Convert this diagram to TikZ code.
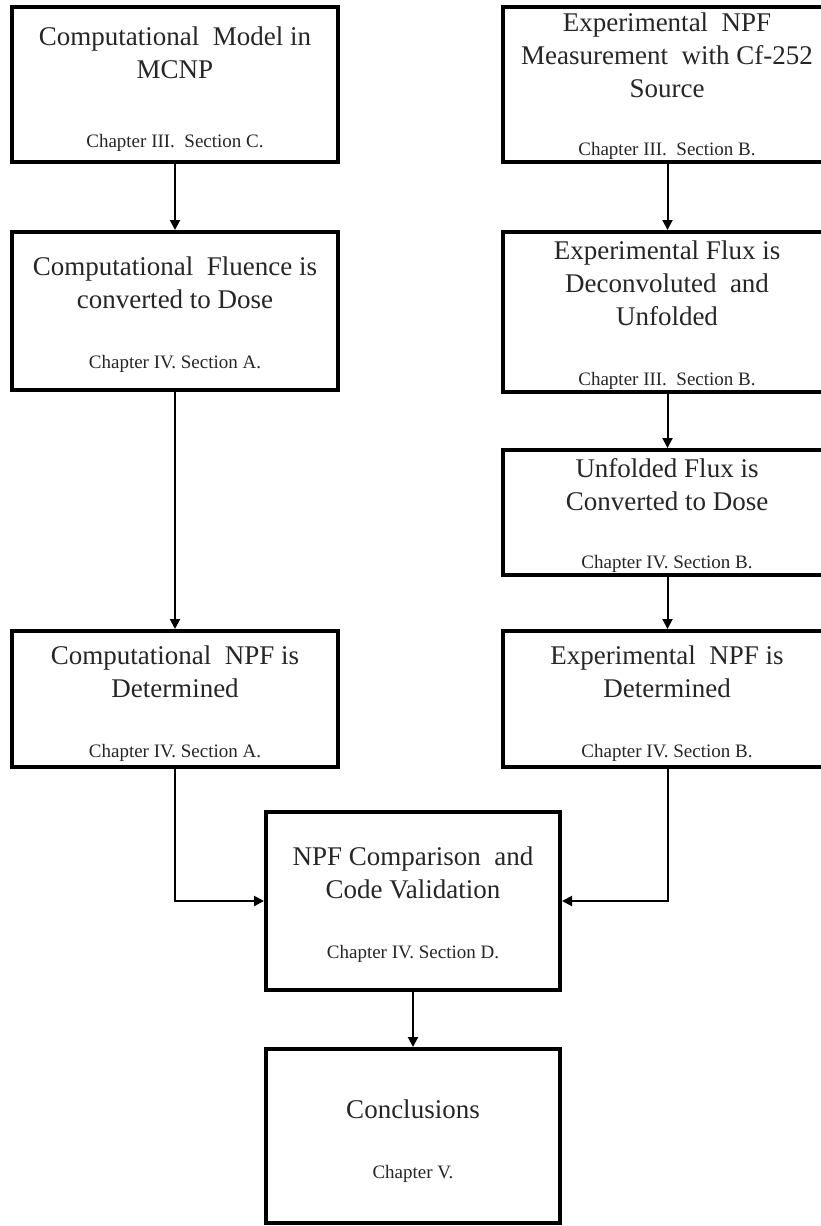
\documentclass[tikz,border=0pt]{standalone}
\usepackage{fontspec}
\setmainfont{Liberation Serif}
\usetikzlibrary{arrows.meta}
\begin{document}
\begin{tikzpicture}[x=1pt,y=-1pt,
  stage/.style={draw=black, line width=4pt, rectangle, inner sep=0pt},
  ttl/.style={anchor=base, align=center, font=\fontsize{27}{33}\selectfont, text=black!85},
  chap/.style={anchor=base, font=\fontsize{19}{22}\selectfont, text=black!85},
  flow/.style={line width=2pt, -{Triangle[length=10pt,width=10pt]}}]
  \fill[white] (0,0) rectangle (821,1226);
  \useasboundingbox (0,0) rectangle (821,1226);
  \clip (0,0) rectangle (821,1226);

  % left column: computational path (titles placed by their last baseline)
  \node[stage, minimum width=326pt, minimum height=155pt] (b1) at (175,84.5) {};
  \node[ttl] (t1) at (175,78) {Computational\ \ Model in\\MCNP};
  \node[chap] (c1) at (175,147) {Chapter III.~ Section C.};

  \node[stage, minimum width=326pt, minimum height=158pt] (b3) at (175,311) {};
  \node[ttl] (t3) at (175,308) {Computational\ \ Fluence is\\converted to Dose};
  \node[chap] (c3) at (175,368) {Chapter IV. Section A.};

  \node[stage, minimum width=326pt, minimum height=136pt] (b6) at (175,699) {};
  \node[ttl] (t6) at (175,697) {Computational\ \ NPF is\\Determined};
  \node[chap] (c6) at (175,757) {Chapter IV. Section A.};

  % right column: experimental path
  \node[stage, minimum width=329pt, minimum height=155pt] (b2) at (667.5,84.5) {};
  \node[ttl] (t2) at (667,97) {Experimental\ \ NPF\\Measurement\ \ with Cf-252\\Source};
  \node[chap] (c2) at (667,155) {Chapter III.~ Section B.};

  \node[stage, minimum width=329pt, minimum height=160pt] (b4) at (667.5,312) {};
  \node[ttl] (t4) at (667,325) {Experimental Flux is\\Deconvoluted\ \ and\\Unfolded};
  \node[chap] (c4) at (667,385) {Chapter III.~ Section B.};

  \node[stage, minimum width=329pt, minimum height=125pt] (b5) at (667.5,512.5) {};
  \node[ttl] (t5) at (667,510) {Unfolded Flux is\\Converted to Dose};
  \node[chap] (c5) at (667,568) {Chapter IV. Section B.};

  \node[stage, minimum width=329pt, minimum height=136pt] (b7) at (667.5,699) {};
  \node[ttl] (t7) at (667,697) {Experimental\ \ NPF is\\Determined};
  \node[chap] (c7) at (667,757) {Chapter IV. Section B.};

  % merged path
  \node[stage, minimum width=294pt, minimum height=178pt] (b8) at (413,901) {};
  \node[ttl] (t8) at (413,898) {NPF Comparison\ \ and\\Code Validation};
  \node[chap] (c8) at (413,958) {Chapter IV. Section D.};

  \node[stage, minimum width=294pt, minimum height=174pt] (b9) at (413,1136) {};
  \node[ttl] (t9) at (413,1118) {Conclusions};
  \node[chap] (c9) at (413,1178) {Chapter V.};

  % connectors
  \draw[flow] (b1.south) -- (b3.north);
  \draw[flow] (b3.south) -- (b6.north);
  \draw[flow] (b2.south) -- (b4.north);
  \draw[flow] (b4.south) -- (b5.north);
  \draw[flow] (b5.south) -- (b7.north);
  \draw[flow] (b6.south) |- (b8.west);
  \draw[flow] (b7.south) |- (b8.east);
  \draw[flow] (b8.south) -- (b9.north);
\end{tikzpicture}
\end{document}
